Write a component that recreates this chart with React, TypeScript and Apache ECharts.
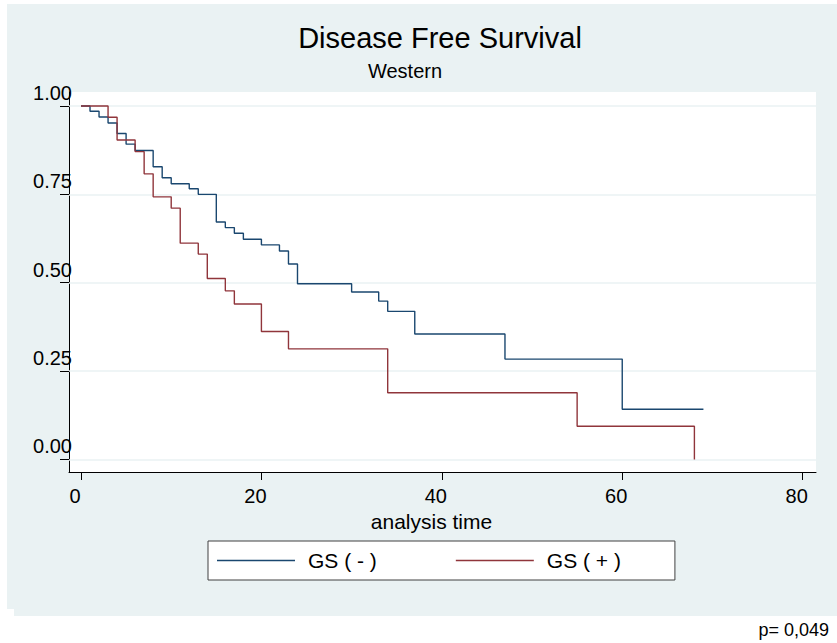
import React, { useEffect, useRef } from "react";
import * as echarts from "echarts";

// Kaplan-Meier estimates
const gsNegTime = [0, 1, 2, 3, 4, 5, 6, 8, 9, 10, 12, 13, 15, 16, 17, 18, 20, 22, 23, 24, 30, 33, 34, 37, 47, 60, 69];
const gsNegSurv = [1, 0.985, 0.969, 0.952, 0.922, 0.892, 0.874, 0.828, 0.797, 0.78, 0.766, 0.75, 0.672, 0.656, 0.64, 0.623, 0.607, 0.59, 0.553, 0.497, 0.474, 0.448, 0.419, 0.355, 0.284, 0.142, 0.142];

const gsPosTime = [0, 3, 4, 6, 7, 8, 10, 11, 13, 14, 16, 17, 20, 23, 34, 55, 68];
const gsPosSurv = [1, 0.968, 0.904, 0.871, 0.808, 0.743, 0.711, 0.612, 0.581, 0.512, 0.477, 0.44, 0.362, 0.313, 0.189, 0.094, 0];

const seriesNames = ["GS ( - )", "GS ( + )"];
const xTicks = [0, 20, 40, 60, 80];
const yTicks = [0, 0.25, 0.5, 0.75, 1];

const FONT = "'Liberation Sans', Arial, sans-serif";
const BG = "#EAF2F3";

export default function App() {
  const ref = useRef<HTMLDivElement>(null);
  useEffect(() => {
    if (!ref.current) return;
    const chart = echarts.init(ref.current, null, { renderer: "svg" });
    const neg = gsNegTime.map((t, i) => [t, gsNegSurv[i]]);
    const pos = gsPosTime.map((t, i) => [t, gsPosSurv[i]]);
    chart.setOption({
      animation: false,
      backgroundColor: "#ffffff",
      textStyle: { fontFamily: FONT },
      graphic: [
        { type: "rect", z: -10, shape: { x: 14, y: 4, width: 823, height: 612 }, style: { fill: BG } },
        { type: "rect", z: -10, shape: { x: 7, y: 4, width: 830, height: 605 }, style: { fill: BG } },
        {
          type: "text",
          x: 440,
          y: 38,
          style: { text: "Disease Free Survival", font: `29px ${FONT}`, fill: "#000", textAlign: "center", textVerticalAlign: "middle" },
        },
        {
          type: "text",
          x: 405,
          y: 71,
          style: { text: "Western", font: `20px ${FONT}`, fill: "#000", textAlign: "center", textVerticalAlign: "middle" },
        },
        {
          type: "text",
          x: 829,
          y: 630,
          style: { text: "p= 0,049", font: `18px ${FONT}`, fill: "#000", textAlign: "right", textVerticalAlign: "middle" },
        },
      ],
      grid: {
        left: 69,
        top: 92,
        width: 747,
        height: 380,
        show: true,
        backgroundColor: "#ffffff",
        borderWidth: 0,
        containLabel: false,
        outerBoundsMode: "none",
      },
      legend: {
        data: seriesNames,
        left: 208,
        top: 541,
        orient: "horizontal",
        icon: "rect",
        itemWidth: 78,
        itemHeight: 1.5,
        itemGap: 79,
        backgroundColor: "#ffffff",
        borderColor: "#404040",
        borderWidth: 1,
        borderRadius: 0,
        padding: [9, 54, 9, 9],
        textStyle: { fontSize: 21, color: "#000", fontFamily: FONT, padding: [0, 0, 0, 8] },
        selectedMode: false,
      },
      xAxis: {
        type: "value",
        min: -1.33,
        max: 81.48,
        name: "analysis time",
        nameLocation: "middle",
        nameGap: 36,
        nameTextStyle: { fontSize: 21, color: "#000", fontFamily: FONT, padding: [0, 22, 0, 0] },
        axisLine: { show: true, onZero: false, lineStyle: { color: "#000", width: 1 } },
        axisTick: { show: true, customValues: xTicks, length: 8, lineStyle: { color: "#000", width: 1 } },
        axisLabel: {
          show: true,
          customValues: xTicks,
          fontSize: 20,
          color: "#000",
          fontFamily: FONT,
          margin: 14,
          padding: [0, 12, 0, 0],
        },
        splitLine: { show: false },
      },
      yAxis: {
        type: "value",
        min: -0.0354,
        max: 1.0396,
        axisLine: { show: true, onZero: false, lineStyle: { color: "#000", width: 1 } },
        axisTick: { show: true, customValues: yTicks, length: 9, lineStyle: { color: "#000", width: 1 } },
        axisLabel: {
          show: true,
          customValues: yTicks,
          fontSize: 20,
          color: "#000",
          fontFamily: FONT,
          margin: -3,
          verticalAlign: "bottom",
          lineHeight: 26,
          formatter: (v: number) => v.toFixed(2),
        },
        splitLine: { show: false },
      },
      series: [
        {
          name: "gridlines",
          type: "line",
          data: [],
          silent: true,
          markLine: {
            silent: true,
            z: 1,
            symbol: "none",
            label: { show: false },
            lineStyle: { color: BG, type: "solid", width: 1.5 },
            data: yTicks.map((v) => ({ yAxis: v })),
          },
        },
        {
          name: seriesNames[0],
          type: "line",
          step: "end",
          data: neg,
          symbol: "none",
          z: 3,
          color: "#1A476F",
          lineStyle: { color: "#1A476F", width: 1.4 },
        },
        {
          name: seriesNames[1],
          type: "line",
          step: "end",
          data: pos,
          symbol: "none",
          z: 3,
          color: "#90353B",
          lineStyle: { color: "#90353B", width: 1.4 },
        },
      ],
    });
    return () => chart.dispose();
  }, []);
  return (
    <div
      ref={ref}
      style={{ position: "fixed", left: 0, top: 0, width: 837, height: 643 }}
    />
  );
}
